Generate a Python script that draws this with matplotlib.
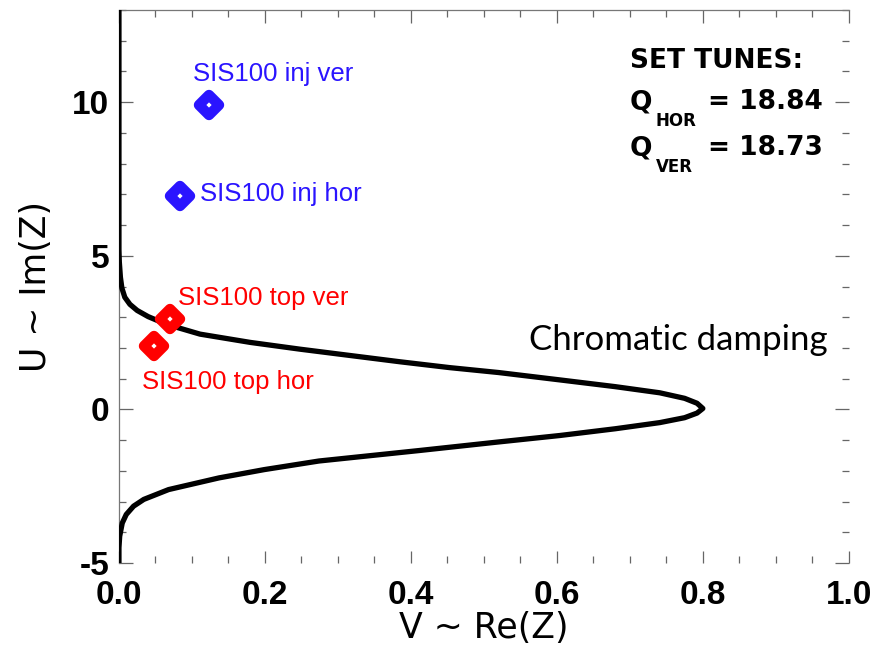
# Chromatic damping stability diagram with SIS100 working points
import numpy as np
import matplotlib.pyplot as plt
from matplotlib.markers import MarkerStyle
from matplotlib.ticker import MultipleLocator

plt.rcParams['axes.unicode_minus'] = False

# stability boundary: Re(Z) vs Im(Z)
curve_re = [0.0, 0.0, 0.0005, 0.002, 0.004, 0.008, 0.015, 0.025, 0.04, 0.065,
            0.111, 0.18, 0.248, 0.385, 0.453, 0.52, 0.604, 0.68, 0.741, 0.775,
            0.792, 0.80, 0.792, 0.775, 0.741, 0.68, 0.604, 0.52, 0.411, 0.274,
            0.199, 0.137, 0.068, 0.034, 0.020, 0.010, 0.0045, 0.001, 0.0, 0.0]
curve_im = [13.0, 5.2, 4.8, 4.3, 3.95, 3.65, 3.42, 3.22, 3.02, 2.77,
            2.45, 2.18, 1.96, 1.55, 1.36, 1.2, 0.96, 0.74, 0.54, 0.36,
            0.2, 0.03, -0.12, -0.27, -0.43, -0.63, -0.85, -1.06, -1.34, -1.68,
            -1.96, -2.23, -2.61, -2.93, -3.15, -3.42, -3.70, -4.13, -4.5, -5.0]

# working points
inj_names = ['SIS100 inj ver', 'SIS100 inj hor']
inj_re = [0.123, 0.084]
inj_im = [9.91, 6.95]
top_names = ['SIS100 top ver', 'SIS100 top hor']
top_re = [0.070, 0.048]
top_im = [2.93, 2.06]

q_hor = 18.84
q_ver = 18.73

blue = '#2a14ff'
red = '#ff0000'

fig = plt.figure(figsize=(8.76, 6.49), dpi=100)
ax = fig.add_axes([0.1358, 0.1325, 0.969 - 0.1358, 0.9846 - 0.1325])

ax.plot(curve_re, curve_im, color='black', lw=3.8, solid_joinstyle='round', zorder=3)

mk = MarkerStyle('D', joinstyle='round')
ax.plot(inj_re, inj_im, ls='none', marker=mk, ms=10.5, mew=7.5,
        mfc='white', mec=blue, zorder=4)
ax.plot(top_re, top_im, ls='none', marker=mk, ms=10.5, mew=7.5,
        mfc='white', mec=red, zorder=4)

lab_font = dict(family='Liberation Sans', fontsize=18.5, va='center', ha='left')
ax.text(0.101, 10.92, inj_names[0], color=blue, **lab_font)
ax.text(0.111, 7.0, inj_names[1], color=blue, **lab_font)
ax.text(0.081, 3.62, top_names[0], color=red, **lab_font)
ax.text(0.0315, 0.88, top_names[1], color=red, **lab_font)

ax.text(0.766, 2.26, 'Chromatic damping', family='Lato', fontsize=25,
        ha='center', va='center', color='black')

# set tunes box
tb = dict(family='DejaVu Sans', fontweight='bold', color='black', va='center', ha='left')
ax.text(0.70, 11.35, 'SET TUNES:', fontsize=19, **tb)
ax.text(0.70, 10.0, 'Q', fontsize=19, **tb)
ax.text(0.735, 9.38, 'HOR', fontsize=12, **tb)
ax.text(0.807, 10.0, '= %.2f' % q_hor, fontsize=19, **tb)
ax.text(0.70, 8.5, 'Q', fontsize=19, **tb)
ax.text(0.735, 7.88, 'VER', fontsize=12, **tb)
ax.text(0.807, 8.5, '= %.2f' % q_ver, fontsize=19, **tb)

ax.set_xlim(0.0, 1.0)
ax.set_ylim(-5, 13)
ax.xaxis.set_minor_locator(MultipleLocator(0.05))
ax.yaxis.set_minor_locator(MultipleLocator(1))
ax.set_xticks([0.0, 0.2, 0.4, 0.6, 0.8, 1.0])
ax.set_xticklabels(['0.0', '0.2', '0.4', '0.6', '0.8', '1.0'])
ax.set_yticks([-5, 0, 5, 10])

ax.tick_params(which='both', direction='in', top=True, right=True, color='#666666', width=0.9)
ax.tick_params(axis='x', which='major', length=9, pad=12)
ax.tick_params(axis='y', which='major', length=10, pad=7)
ax.tick_params(which='minor', length=5)
for lbl in ax.get_xticklabels() + ax.get_yticklabels():
    lbl.set_family('Liberation Sans')
    lbl.set_fontweight('bold')
    lbl.set_fontsize(24)

ax.set_xlabel('V ~ Re(Z)', family='DejaVu Sans', fontsize=25, labelpad=0)
ax.set_ylabel('U ~ Im(Z)', family='DejaVu Sans', fontsize=25, labelpad=14)

for side in ['left', 'top']:
    ax.spines[side].set_color('#777777')
    ax.spines[side].set_linewidth(0.9)
for side in ['right', 'bottom']:
    ax.spines[side].set_visible(False)

fig.savefig('out.png', dpi=100)
